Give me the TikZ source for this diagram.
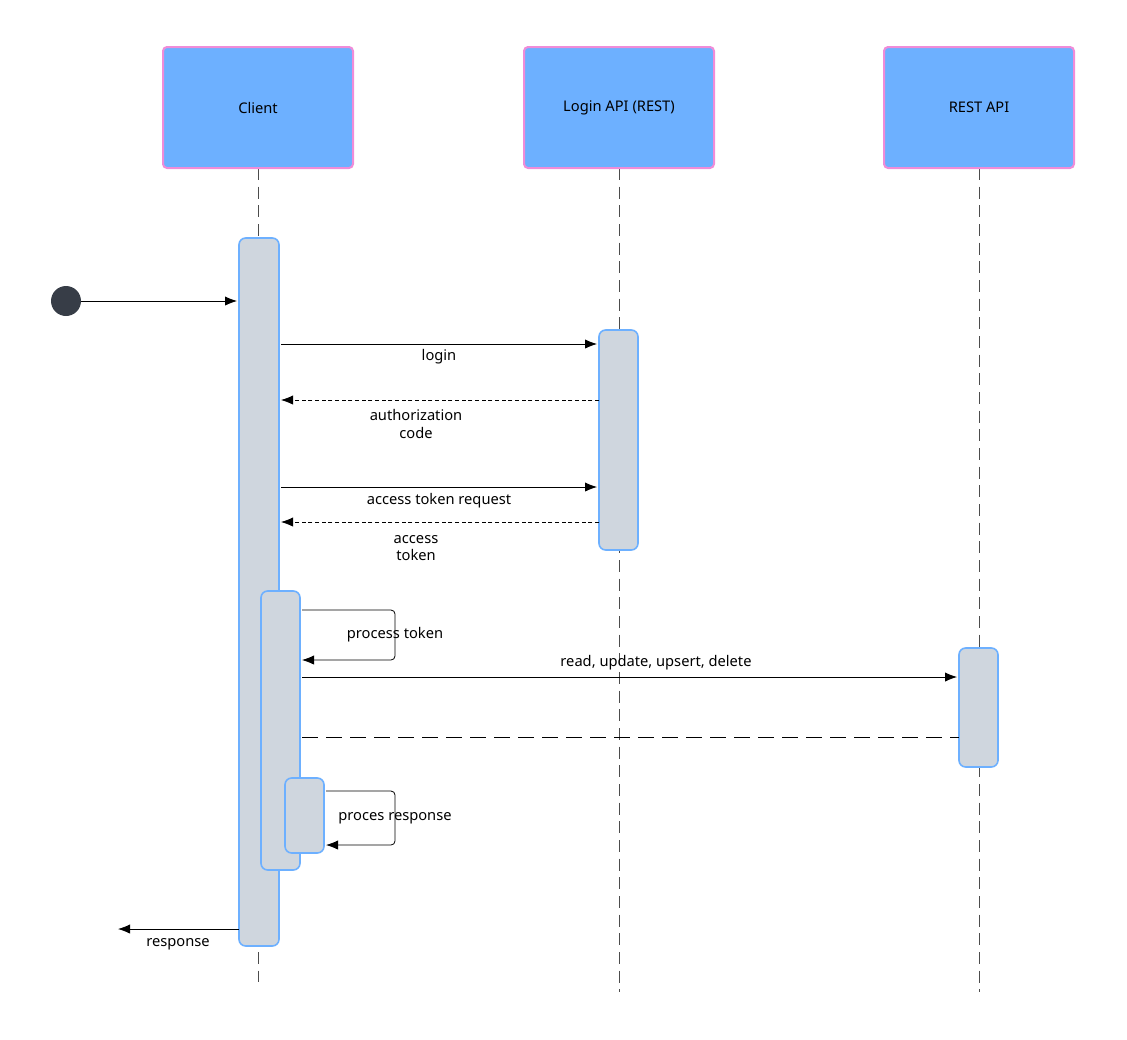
\documentclass[tikz,border=0pt]{standalone}
\usepackage{fontspec}
\setmainfont{Noto Sans}
\usetikzlibrary{arrows.meta}
\definecolor{headfill}{HTML}{6DB0FF}
\definecolor{headborder}{HTML}{F08CD8}
\definecolor{barfill}{HTML}{CFD6DE}
\definecolor{barborder}{HTML}{6DB0FF}
\definecolor{dot}{HTML}{373D47}
\begin{document}
\begin{tikzpicture}[x=0.75pt,y=-0.75pt,
  head/.style={draw=headborder,fill=headfill,line width=1.5pt,rounded corners=3pt},
  bar/.style={draw=barborder,fill=barfill,line width=1.2pt,rounded corners=5pt},
  life/.style={draw=black!70,dash pattern=on 9pt off 5pt,line width=0.6pt},
  msg/.style={-{Latex[length=9pt,width=7pt]},line width=0.6pt},
  ret/.style={msg,dash pattern=on 3pt off 2pt},
  lbl/.style={font=\fontsize{11pt}{13pt}\selectfont,align=center}]
\useasboundingbox (0,0) rectangle (1127,1039);
\draw[life] (258,168) -- (258,982);
\draw[life] (619,168) -- (619,992);
\draw[life] (979,168) -- (979,992);
\node[head,minimum width=142.5pt,minimum height=90.75pt] (client) at (258,107.5) {};
\node[lbl] at (client) {Client};
\node[head,minimum width=142.5pt,minimum height=90.75pt] (login) at (619,107.5) {};
\node[lbl] at (login) {Login API (REST)};
\node[head,minimum width=142.5pt,minimum height=90.75pt] (rest) at (979,107.5) {};
\node[lbl] at (rest) {REST API};
\draw[bar] (239,238) rectangle (279,946);
\draw[bar] (599,330) rectangle (638,550);
\draw[bar] (261,591) rectangle (300,870);
\draw[bar] (285,778) rectangle (324,853);
\draw[bar] (959,648) rectangle (998,767);
\node[circle,fill=dot,minimum size=22.5pt,inner sep=0] (start) at (66,301) {};
\coordinate (a1) at (237,301);
\draw[msg] (start) -- (a1);
\coordinate (l1) at (281,344); \coordinate (l2) at (597,344);
\draw[msg] (l1) -- (l2);
\node[lbl] at (439,357) {login};
\coordinate (r1) at (599,400); \coordinate (r2) at (281,400);
\draw[ret] (r1) -- (r2);
\node[lbl] at (416,424) {authorization\\code};
\coordinate (t1) at (281,487); \coordinate (t2) at (597,487);
\draw[msg] (t1) -- (t2);
\node[lbl] at (439,501) {access token request};
\coordinate (s1) at (599,522); \coordinate (s2) at (281,522);
\draw[ret] (s1) -- (s2);
\node[lbl] at (416,548) {access\\token};
\coordinate (p1) at (302,610); \coordinate (p2) at (302,660);
\draw[msg,rounded corners=3pt] (p1) -- (395,610) -- (395,660) -- (p2);
\node[lbl] at (395,635) {process token};
\coordinate (u1) at (302,677); \coordinate (u2) at (957,677);
\draw[msg] (u1) -- (u2);
\node[lbl] at (656,663) {read, update, upsert, delete};
\coordinate (d1) at (302,737); \coordinate (d2) at (959,737);
\draw[line width=0.6pt,dash pattern=on 12pt off 6pt] (d1) -- (d2);
\coordinate (q1) at (326,791); \coordinate (q2) at (326,845);
\draw[msg,rounded corners=3pt] (q1) -- (395,791) -- (395,845) -- (q2);
\node[lbl] at (395,818) {proces response};
\coordinate (e1) at (239,929); \coordinate (e2) at (118,929);
\draw[msg] (e1) -- (e2);
\node[lbl] at (178,944) {response};
\end{tikzpicture}
\end{document}
